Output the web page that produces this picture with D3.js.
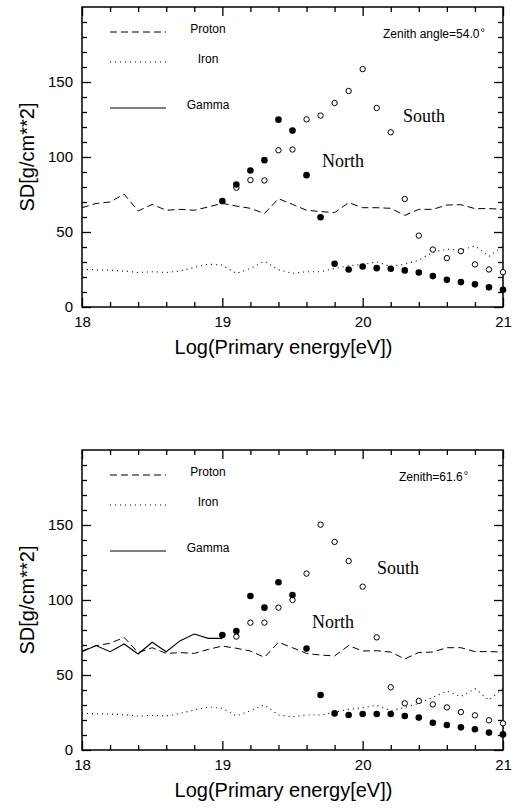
<!DOCTYPE html>
<html>
<head>
<meta charset="utf-8">
<script src="https://cdn.jsdelivr.net/npm/d3@7.9.0/dist/d3.min.js"></script>
<style>
  body { margin: 0; background: #fff; }
  svg { display: block; font-family: "Liberation Sans", Arial, sans-serif; }
  .serif { font-family: "Liberation Serif", "Times New Roman", serif; }
</style>
</head>
<body>
<svg id="chart" width="520" height="808"></svg>
<script>
/* ---------- data ---------- */
const energyGrid = [18.0, 18.1, 18.2, 18.3, 18.4, 18.5, 18.6, 18.7, 18.8, 18.9,
  19.0, 19.1, 19.2, 19.3, 19.4, 19.5, 19.6, 19.7, 19.8, 19.9,
  20.0, 20.1, 20.2, 20.3, 20.4, 20.5, 20.6, 20.7, 20.8, 20.9, 21.0];
const gammaEnergy = [18.0, 18.1, 18.2, 18.3, 18.4, 18.5, 18.6, 18.7, 18.8, 18.9, 19.0];
const northEnergy = [19.0, 19.1, 19.2, 19.3, 19.4, 19.5, 19.6, 19.7, 19.8, 19.9,
  20.0, 20.1, 20.2, 20.3, 20.4, 20.5, 20.6, 20.7, 20.8, 20.9, 21.0];
const southEnergy = [19.1, 19.2, 19.3, 19.4, 19.5, 19.6, 19.7, 19.8, 19.9,
  20.0, 20.1, 20.2, 20.3, 20.4, 20.5, 20.6, 20.7, 20.8, 20.9, 21.0];

// upper panel, zenith 54.0
const protonTop = [66.2, 69, 70, 75.3, 64, 68.4, 64.5, 65.1, 64.5, 66.7,
  69.1, 67.3, 65.8, 62.3, 72.2, 68.4, 64.5, 63.6, 62.9, 69.6,
  66.2, 66.2, 65.8, 61.1, 65.1, 65.1, 68, 68.2, 65.6, 65.6, 65.1];
const ironTop = [25.2, 24.8, 24.5, 24, 23, 23.5, 23, 24, 26.4, 28.6,
  27.9, 22.4, 25.7, 30.5, 24.8, 22.4, 23.5, 23.5, 25.7, 27.5,
  28.4, 30.1, 27, 28.6, 31.2, 36.7, 38.5, 37.9, 40.7, 33.7, 40.7];
const northTop = [70.6, 81.7, 91, 97.9, 124.9, 117.6, 87.9, 59.8, 28.8, 25,
  27, 25.9, 25.5, 24.4, 23, 20.6, 18.1, 16.6, 15.1, 13.1, 11.5];
const southTop = [79.5, 84.6, 84.4, 104.5, 105, 125.1, 127.6, 136, 144,
  158.6, 132.7, 116.5, 72, 47.6, 38.3, 32.6, 37.2, 28.4, 25, 23.2];

// lower panel, zenith 61.6
const protonBottom = [66, 69.6, 71.1, 75.1, 64.9, 68.2, 64.4, 64.9, 64.4, 67.1,
  69.3, 67.8, 66, 61.8, 71.8, 68.2, 64.4, 63.3, 62.7, 69.6,
  66, 66.2, 65.3, 60.7, 65, 65.3, 68.2, 68.2, 65.6, 65.6, 65.3];
const ironBottom = [24.4, 24.2, 24, 23.5, 22.7, 23, 22.7, 24.4, 26.7, 28.7,
  27.8, 22.7, 26.2, 30, 23.3, 22.2, 23.3, 23.3, 25.3, 27.1,
  28.2, 29.8, 26.2, 28.4, 31.1, 35.1, 39.3, 35.6, 40.9, 33.3, 41.1];
const gammaBottom = [65.5, 69.6, 65.5, 70.7, 64, 71.8, 65.5, 72.9, 77.3, 74.4, 74.4];
const northBottom = [76.7, 79.3, 102.7, 94.9, 111.8, 103.3, 67.6, 36.7, 24.4, 23.3,
  24, 24, 24, 22.7, 21.6, 18.2, 16.7, 15.1, 13.8, 11.6, 10.4];
const southBottom = [75.6, 84.9, 84.9, 94.9, 100, 117.6, 150.2, 138.7, 126,
  108.9, 75.1, 41.8, 31.1, 32.7, 30.4, 28.4, 25.3, 23.1, 19.8, 17.8];

const xMajor = [18, 19, 20, 21];
const xMinor = [18.2, 18.4, 18.6, 18.8, 19.2, 19.4, 19.6, 19.8, 20.2, 20.4, 20.6, 20.8];
const yMajor = [0, 50, 100, 150];
const yMinor = [10, 20, 30, 40, 60, 70, 80, 90, 110, 120, 130, 140, 160, 170, 180, 190];
const legendLabels = ["Proton", "Iron", "Gamma"];

/* ---------- layout ---------- */
const svg = d3.select('#chart');
const left = 82, right = 503;
const plotH = 300;
const x = d3.scaleLinear().domain([18, 21]).range([left, right]);

function drawPanel(top, cfg) {
  const y = d3.scaleLinear().domain([0, 200]).range([top + plotH, top]);
  const g = svg.append('g');
  const bottom = top + plotH;

  // ticks (inward on all four sides)
  const ax = (gen, tr, vals, len, labels) => {
    const a = g.append('g').attr('transform', tr)
      .call(gen.tickValues(vals).tickSize(-len).tickPadding(9)
        .tickFormat(labels ? d3.format('d') : () => ''));
    a.select('.domain').remove();
    a.selectAll('line').attr('stroke', '#000').attr('stroke-width', 1.3);
    a.selectAll('text').attr('font-size', 15).attr('fill', '#000');
  };
  ax(d3.axisBottom(x), `translate(0,${bottom})`, xMinor, 5, false);
  ax(d3.axisBottom(x), `translate(0,${bottom})`, xMajor, 9, true);
  ax(d3.axisTop(x), `translate(0,${top})`, xMinor, 5, false);
  ax(d3.axisTop(x), `translate(0,${top})`, xMajor, 9, false);
  ax(d3.axisLeft(y), `translate(${left},0)`, yMinor, 5, false);
  ax(d3.axisLeft(y), `translate(${left},0)`, yMajor, 9, true);
  ax(d3.axisRight(y), `translate(${right},0)`, yMinor, 5, false);
  ax(d3.axisRight(y), `translate(${right},0)`, yMajor, 9, false);

  // frame
  g.append('rect')
    .attr('x', left).attr('y', top).attr('width', right - left).attr('height', plotH)
    .attr('fill', 'none').attr('stroke', '#000').attr('stroke-width', 1.5);

  const line = d3.line().x(d => x(d[0])).y(d => y(d[1]));
  const zip = (a, b) => a.map((v, i) => [v, b[i]]);

  const styles = {
    Proton: { dash: '7,4', w: 1 },
    Iron: { dash: '1,4', w: 1.1 },
    Gamma: { dash: null, w: 1.1 }
  };

  g.append('path').datum(zip(energyGrid, cfg.proton))
    .attr('d', line).attr('fill', 'none').attr('stroke', '#000')
    .attr('stroke-width', styles.Proton.w).attr('stroke-dasharray', styles.Proton.dash);
  g.append('path').datum(zip(energyGrid, cfg.iron))
    .attr('d', line).attr('fill', 'none').attr('stroke', '#000')
    .attr('stroke-width', styles.Iron.w).attr('stroke-dasharray', styles.Iron.dash);
  if (cfg.gamma) {
    g.append('path').datum(zip(gammaEnergy, cfg.gamma))
      .attr('d', line).attr('fill', 'none').attr('stroke', '#000')
      .attr('stroke-width', styles.Gamma.w);
  }

  // markers
  g.selectAll('circle.south').data(zip(southEnergy, cfg.south)).enter()
    .append('circle').attr('class', 'south')
    .attr('cx', d => x(d[0])).attr('cy', d => y(d[1])).attr('r', 2.7)
    .attr('fill', '#fff').attr('stroke', '#000').attr('stroke-width', 1);
  g.selectAll('circle.north').data(zip(northEnergy, cfg.north)).enter()
    .append('circle').attr('class', 'north')
    .attr('cx', d => x(d[0])).attr('cy', d => y(d[1])).attr('r', 3.3)
    .attr('fill', '#000');

  // legend
  const legY = [25, 55, 101];
  legendLabels.forEach((lab, i) => {
    g.append('line')
      .attr('x1', 110).attr('x2', 166).attr('y1', top + legY[i]).attr('y2', top + legY[i])
      .attr('stroke', '#000').attr('stroke-width', styles[lab].w)
      .attr('stroke-dasharray', styles[lab].dash);
    g.append('text').attr('x', 208).attr('y', top + legY[i] + 1)
      .attr('text-anchor', 'middle').attr('font-size', 12).text(lab);
  });

  // zenith label
  const z = g.append('text').attr('x', cfg.zenithX).attr('y', top + 31)
    .attr('font-size', 12).text(cfg.zenith);
  z.append('tspan').attr('dx', 1).attr('dy', -2).attr('font-size', 11).text('°');

  g.append('text').attr('class', 'serif').attr('x', cfg.southPos[0]).attr('y', cfg.southPos[1])
    .attr('font-size', 18).text('South');
  g.append('text').attr('class', 'serif').attr('x', cfg.northPos[0]).attr('y', cfg.northPos[1])
    .attr('font-size', 18).text('North');

  // axis titles
  g.append('text').attr('x', (left + right) / 2 - 9).attr('y', bottom + 47)
    .attr('text-anchor', 'middle').attr('font-size', 20).text('Log(Primary energy[eV])');
  g.append('text')
    .attr('transform', `translate(34,${(top + bottom) / 2}) rotate(-90)`)
    .attr('text-anchor', 'middle').attr('font-size', 20).text('SD[g/cm**2]');
}

drawPanel(7, {
  proton: protonTop, iron: ironTop, gamma: null,
  north: northTop, south: southTop,
  zenith: 'Zenith angle=54.0', zenithX: 383,
  southPos: [403, 122], northPos: [322, 167]
});
drawPanel(450, {
  proton: protonBottom, iron: ironBottom, gamma: gammaBottom,
  north: northBottom, south: southBottom,
  zenith: 'Zenith=61.6', zenithX: 399,
  southPos: [377, 574], northPos: [312, 628]
});
</script>
</body>
</html>
